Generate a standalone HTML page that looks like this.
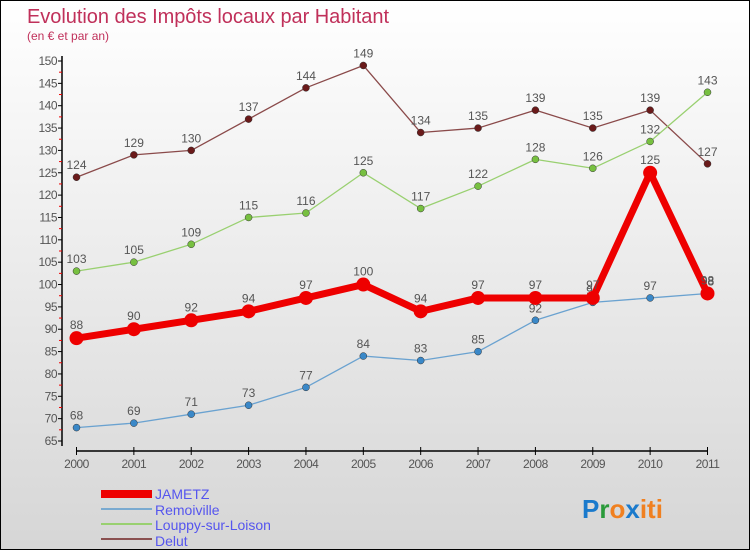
<!DOCTYPE html>
<html><head><meta charset="utf-8"><style>
body{margin:0}
#c{width:750px;height:550px;position:relative;box-sizing:border-box;border:1px solid #000;background:linear-gradient(#fff,#d6d6d6);font-family:"Liberation Sans",sans-serif;overflow:hidden}
</style></head><body>
<div id="c">
<svg id="s" width="750" height="550" xmlns="http://www.w3.org/2000/svg">
<text x="26" y="22" font-size="20" fill="#c0305a" textLength="362">Evolution des Impôts locaux par Habitant</text>
<text x="26" y="39" font-size="12" fill="#c0305a">(en € et par an)</text>
<g id="axes"></g><g id="series"></g>
<g>
<rect x="100" y="489" width="51" height="8" fill="#e00"/>
<text x="154" y="498" font-size="14" fill="#5555ee">JAMETZ</text>
<rect x="100" y="507" width="51" height="2" fill="#7aaad0"/>
<text x="154" y="514" font-size="14" fill="#5555ee">Remoiville</text>
<rect x="100" y="522" width="51" height="2" fill="#99d070"/>
<text x="154" y="529" font-size="14" fill="#5555ee">Louppy-sur-Loison</text>
<rect x="100" y="537" width="51" height="2" fill="#8a5050"/>
<text x="154" y="545" font-size="14" fill="#5555ee">Delut</text>
</g>
<text x="581" y="517" font-size="26" font-weight="bold"><tspan fill="#1a7acc">P</tspan><tspan fill="#2a9a3a">r</tspan><tspan fill="#f08020">o</tspan><tspan fill="#1a7acc">x</tspan><tspan fill="#f08020">iti</tspan></text>
</svg>
</div>
<script>
const years=[2000,2001,2002,2003,2004,2005,2006,2007,2008,2009,2010,2011];
const yTicks=[65,70,75,80,85,90,95,100,105,110,115,120,125,130,135,140,145,150];
const jametz=[88,90,92,94,97,100,94,97,97,97,125,98];
const remoiville=[68,69,71,73,77,84,83,85,92,96,97,98];
const louppy=[103,105,109,115,116,125,117,122,128,126,132,143];
const delut=[124,129,130,137,144,149,134,135,139,135,139,127];
const NS="http://www.w3.org/2000/svg";
const X=i=>75.5+i*(706.5-75.5)/11;
const Y=v=>440-(v-65)*(440-60)/85;
function mk(t,a,p){const e=document.createElementNS(NS,t);for(const k in a)e.setAttribute(k,a[k]);p.appendChild(e);return e;}
const ax=document.getElementById('axes');
let l=mk('line',{x1:61,y1:55,x2:61,y2:445,stroke:'#000','stroke-width':1.5},ax);


l=mk('line',{x1:75,y1:450,x2:707,y2:450,stroke:'#000','stroke-width':1.5},ax);


yTicks.forEach(v=>{
 mk('line',{x1:57,x2:61,y1:Y(v),y2:Y(v),stroke:'#000'},ax);
 if(v<150)mk('line',{x1:58,x2:61,y1:Y(v+2.5),y2:Y(v+2.5),stroke:'#e00'},ax);
 const t=mk('text',{x:56,y:Y(v)+4,'font-size':12,'text-anchor':'end',fill:'#555','letter-spacing':'-0.5'},ax);
 t.textContent=v;
 
 
});
years.forEach((y,i)=>{
 mk('line',{x1:X(i),x2:X(i),y1:446,y2:454,stroke:'#000'},ax);
 const t=mk('text',{x:X(i),y:467,'font-size':12,'text-anchor':'middle',fill:'#555','letter-spacing':'-0.5'},ax);
 t.textContent=y;
 
 
});
const sg=document.getElementById('series');
function draw(d,name,col,dot,w,r){
 const g=mk('g',{},sg);
 
 
 const p=mk('polyline',{points:d.map((v,i)=>X(i)+','+Y(v)).join(' '),fill:'none',stroke:col,'stroke-width':w,'stroke-linejoin':'round'},g);
 
 
 d.forEach((v,i)=>{
  const c=mk('circle',{cx:X(i),cy:Y(v),r:r,fill:dot,stroke:w>3?'none':'#333','stroke-width':0.5},g);
  
  
  const t=mk('text',{x:X(i),y:Y(v)-(w>3?9:8),'font-size':12,'text-anchor':'middle',fill:'#555'},g);
  t.textContent=v;
  
  
 });
}
draw(delut,'delut','#8a4a4a','#6a1a1a',1.3,3.5);
draw(louppy,'louppy','#99d070','#77c040',1.3,3.5);
draw(remoiville,'remoiville','#6aa2d0','#3a88c8',1.3,3.5);
draw(jametz,'jametz','#e00','#e00',7,7);
</script>
</body></html>
